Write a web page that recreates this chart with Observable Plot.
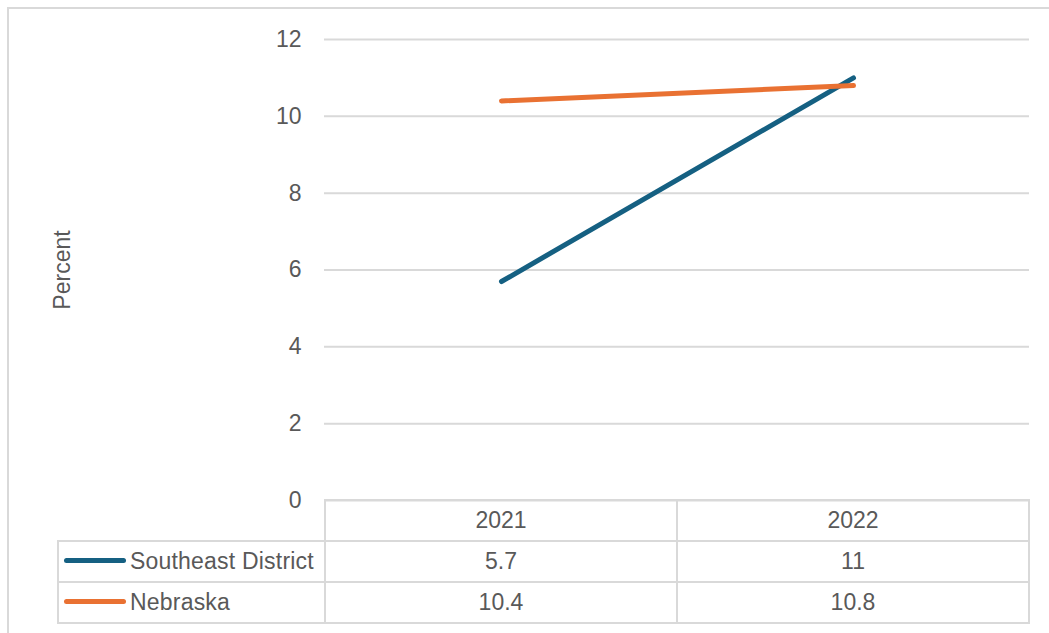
<!DOCTYPE html>
<html>
<head>
<meta charset="utf-8">
<script src="https://cdn.jsdelivr.net/npm/d3@7"></script>
<script src="https://cdn.jsdelivr.net/npm/@observablehq/plot@0.6"></script>
<style>
  html, body { margin: 0; padding: 0; background: #fff; overflow: hidden; width: 1049px; height: 633px; }
  #frame { position: absolute; left: 7px; top: 7px; width: 1100px; height: 700px; border: 2px solid #d9d9d9; box-sizing: border-box; }
  #chart { position: absolute; left: 0; top: 0; }
  #tbl { position: absolute; left: 57px; top: 499px; border-collapse: collapse; table-layout: fixed;
         font-family: "Liberation Sans", Arial, sans-serif; font-size: 23px; color: #595959; }
  #tbl td { border: 2px solid #d9d9d9; padding: 0; height: 39px; text-align: center; white-space: nowrap; }
  #tbl td.name { text-align: left; letter-spacing: 0.2px; }
  #tbl td.blank { border-top: none; border-left: none; }
  .swatch { display: inline-block; width: 62px; height: 5px; border-radius: 3px; margin-left: 5px; margin-right: 4px; vertical-align: middle; position: relative; top: -2px; }
</style>
</head>
<body>
<div id="frame"></div>
<div id="chart"></div>
<table id="tbl"></table>
<script>
const years = ["2021", "2022"];
const seriesNames = ["Southeast District", "Nebraska"];
const southeast = [5.7, 11];
const nebraska = [10.4, 10.8];
const seriesColors = ["#156082", "#E97132"];
const yTicks = [0, 2, 4, 6, 8, 10, 12];
const yLabel = "Percent";

const seriesValues = [southeast, nebraska];
const rows = [];
seriesNames.forEach((s, i) => years.forEach((yr, j) => rows.push({series: s, year: yr, value: seriesValues[i][j]})));

const fontFamily = '"Liberation Sans", Arial, sans-serif';

const chart = Plot.plot({
  width: 1049,
  height: 501,
  marginLeft: 324,
  marginRight: 20,
  marginTop: 39,
  marginBottom: 1,
  style: {fontFamily, fontSize: "23px", color: "#595959", background: "transparent", overflow: "visible"},
  x: {type: "point", domain: years, padding: 0.5, axis: null},
  y: {domain: [0, 12]},
  color: {domain: seriesNames, range: seriesColors},
  marks: [
    Plot.gridY(yTicks, {stroke: "#d9d9d9", strokeOpacity: 1, strokeWidth: 2}),
    Plot.axisY(yTicks, {tickSize: 0, tickPadding: 23, fontSize: 23, fill: "#595959",
      label: yLabel, labelAnchor: "center", labelOffset: 271, labelArrow: "none"}),
    Plot.line(rows, {x: "year", y: "value", z: "series", stroke: "series", strokeWidth: 5, strokeLinecap: "round", strokeLinejoin: "round"})
  ]
});
document.getElementById("chart").appendChild(chart);

// data table below the chart
const tbl = d3.select("#tbl");
const cg = tbl.append("colgroup");
cg.append("col").style("width", "267px");
years.forEach(() => cg.append("col").style("width", "352px"));
const head = tbl.append("tr");
head.append("td").attr("class", "blank");
years.forEach(y => head.append("td").text(y));
seriesNames.forEach((s, i) => {
  const tr = tbl.append("tr");
  const td = tr.append("td").attr("class", "name");
  td.append("span").attr("class", "swatch").style("background", seriesColors[i]);
  td.append("span").text(s);
  seriesValues[i].forEach(v => tr.append("td").text(v));
});
</script>
</body>
</html>
